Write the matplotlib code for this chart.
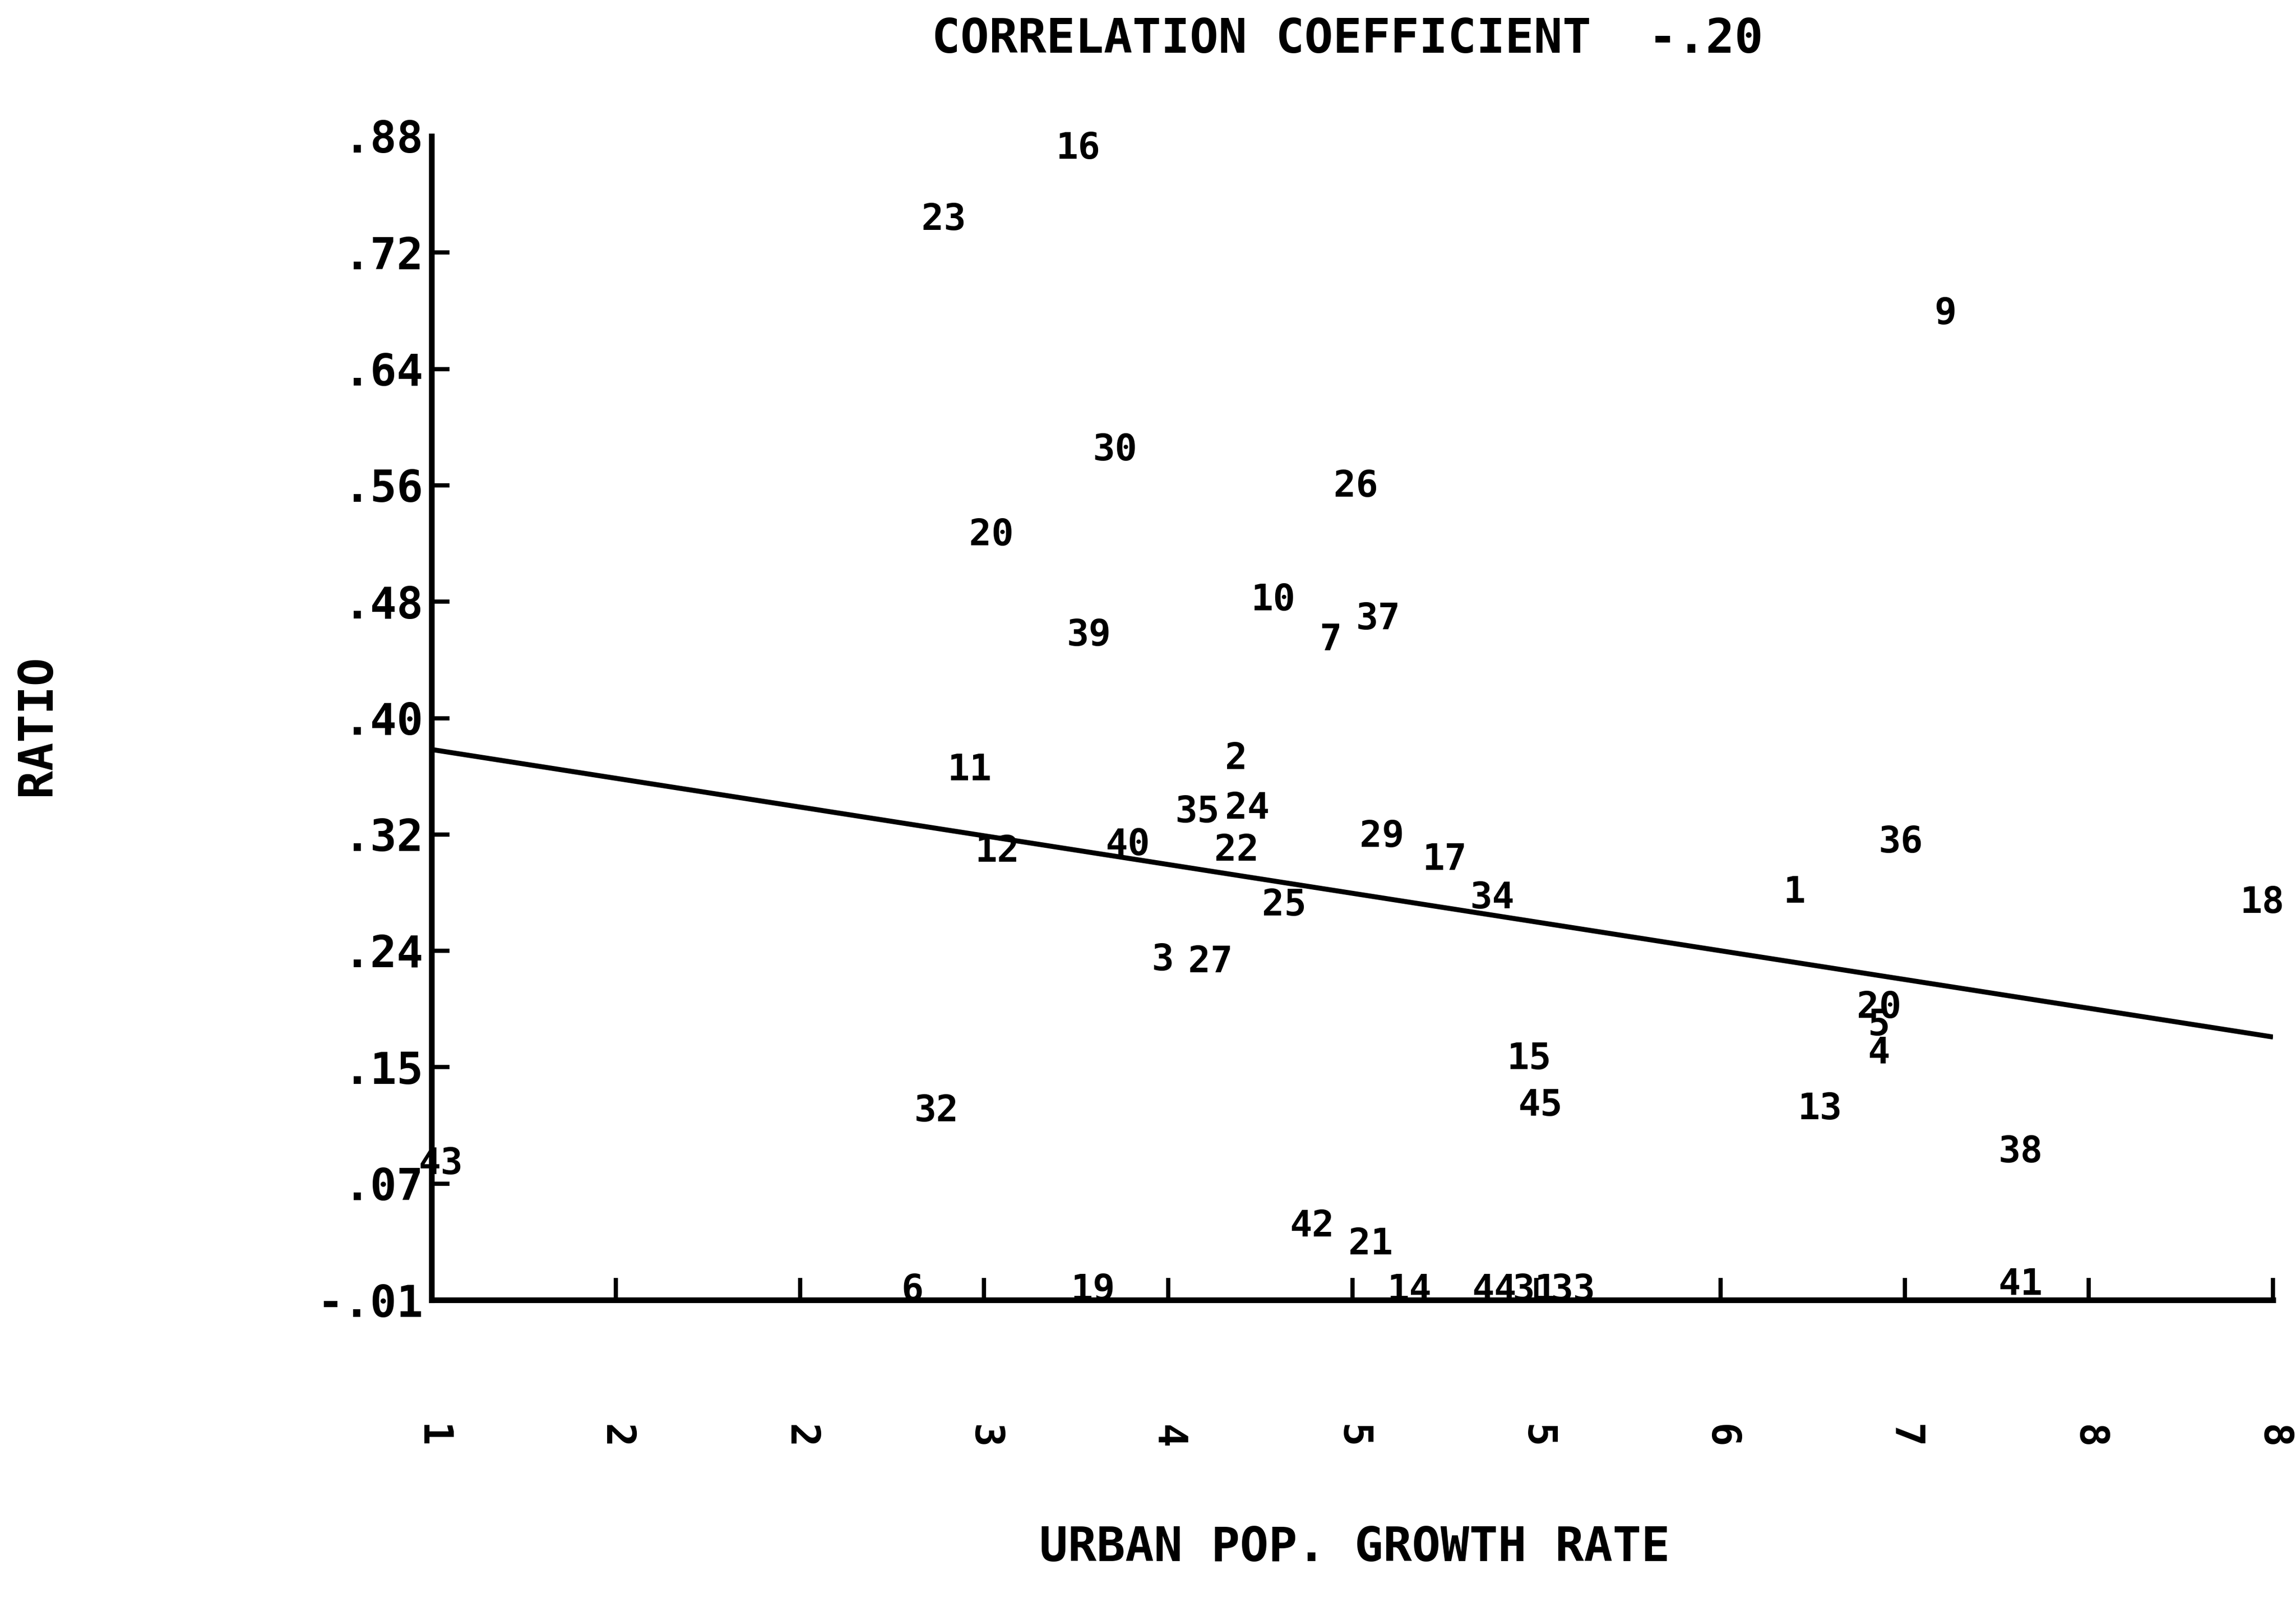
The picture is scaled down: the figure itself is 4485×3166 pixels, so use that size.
import numpy as np
import matplotlib
matplotlib.use("Agg")
import matplotlib.pyplot as plt

plt.rcParams['font.family'] = ['DejaVu Sans Mono']
plt.rcParams['font.weight'] = 'bold'

# case numbers plotted as markers, positions in axis grid units (0..10)
case_ids = ['16', '23', '9', '30', '26', '20', '10', '37', '7', '39',
            '11', '2', '35', '24', '12', '40', '22', '29', '17', '25',
            '34', '1', '36', '18', '3', '27', '20', '5', '4', '15',
            '45', '32', '13', '38', '43', '42', '21', '6', '19', '14',
            '44', '31', '33', '41']
case_x = [3.51, 2.78, 8.22, 3.71, 5.02, 3.04, 4.57, 5.14, 4.88, 3.57,
          2.92, 4.37, 4.16, 4.43, 3.07, 3.78, 4.37, 5.16, 5.50, 4.63,
          5.76, 7.40, 7.98, 9.94, 3.97, 4.23, 7.86, 7.86, 7.86, 5.96,
          6.02, 2.74, 7.54, 8.63, 0.05, 4.78, 5.10, 2.61, 3.59, 5.31,
          5.77, 5.99, 6.20, 8.63]
case_y = [9.89, 9.28, 8.47, 7.30, 6.99, 6.57, 6.01, 5.85, 5.67, 5.71,
          4.55, 4.65, 4.19, 4.22, 3.85, 3.91, 3.86, 3.98, 3.78, 3.39,
          3.45, 3.50, 3.93, 3.41, 2.92, 2.90, 2.51, 2.36, 2.12, 2.07,
          1.67, 1.62, 1.64, 1.27, 1.17, 0.63, 0.48, 0.08, 0.08, 0.08,
          0.08, 0.08, 0.08, 0.13]

# regression line ends (grid units)
reg_x = [0.0, 10.0]
reg_y = [4.73, 2.26]

y_ticklabels = ['-.01', '.07', '.15', '.24', '.32', '.40', '.48', '.56', '.64', '.72', '.88']
x_ticklabels = ['1', '2', '2', '3', '4', '5', '5', '6', '7', '8', '8']

fig = plt.figure(figsize=(44.85, 31.66), dpi=100)
ax = fig.add_axes([0.188, 0.198, 0.802, 0.718])

ax.plot(reg_x, reg_y, color='black', lw=7, solid_capstyle='butt')

for lab, x, y in zip(case_ids, case_x, case_y):
    ax.text(x, y, lab, ha='center', va='center', fontsize=52,
            fontweight='bold', clip_on=False)

ax.set_xlim(0, 10)
ax.set_ylim(0, 10)

ax.set_xticks(np.arange(11))
ax.set_xticklabels(x_ticklabels, rotation=-90, fontsize=56, fontweight='bold')
ax.set_yticks(np.arange(11))
ax.set_yticklabels(y_ticklabels, fontsize=62, fontweight='bold')

ax.tick_params(axis='x', direction='in', length=31, width=6, pad=175)
ax.tick_params(axis='y', direction='in', length=25, width=6, pad=12)
ax.yaxis.get_major_ticks()[-1].tick1line.set_visible(False)

for s in ['top', 'right']:
    ax.spines[s].set_visible(False)
for s in ['left', 'bottom']:
    ax.spines[s].set_linewidth(8)

fig.text(920 / 1568, 1 - 27 / 1107, 'CORRELATION COEFFICIENT  -.20',
         ha='center', va='center', fontsize=67, fontweight='bold')
fig.text(925 / 1568, 1 - 1057 / 1107, 'URBAN POP. GROWTH RATE',
         ha='center', va='center', fontsize=67, fontweight='bold')
fig.text(25 / 1568, 1 - 495 / 1107, 'RATIO', rotation=90,
         ha='center', va='center', fontsize=66, fontweight='bold')

fig.savefig('out.png', dpi=100, facecolor='white')
